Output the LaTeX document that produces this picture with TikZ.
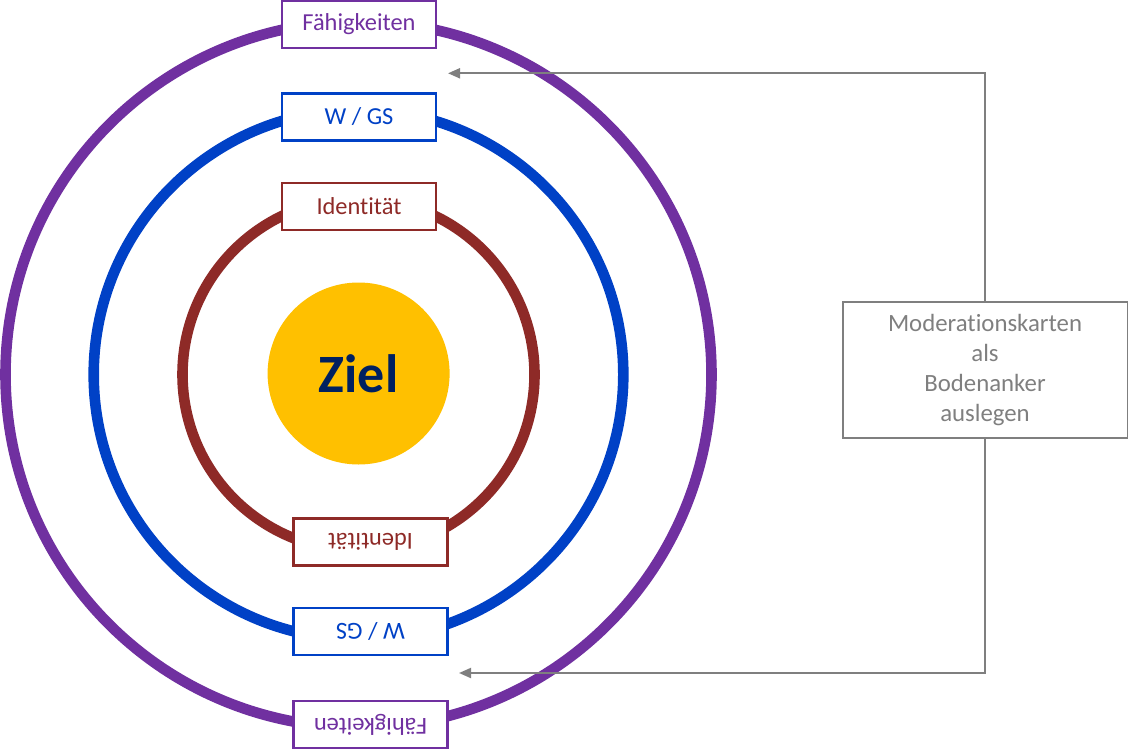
\documentclass[tikz,border=0pt]{standalone}
\usepackage{fontspec}
\setmainfont{Carlito}[Ligatures=NoCommon]
\usetikzlibrary{arrows.meta,positioning}
\definecolor{ringpurple}{HTML}{7030A0}
\definecolor{ringblue}{HTML}{0041C6}
\definecolor{ringred}{HTML}{8E2A27}
\definecolor{zielyellow}{HTML}{FFC000}
\definecolor{zielnavy}{HTML}{002060}
\definecolor{notegrey}{HTML}{7F7F7F}

\begin{document}
\begin{tikzpicture}[x=0.5pt, y=-0.5pt,
  ring/.style={line width=5.3pt},
  card/.style={draw, fill=white, line width=1.1pt, minimum width=77pt,
               minimum height=23.5pt, inner sep=0pt,
               font=\fontsize{12.2}{14}\selectfont},
  flip/.style={card, rotate=180},
  note/.style={draw=notegrey, text=notegrey, line width=1pt, align=center,
               minimum width=142.5pt, minimum height=68pt, inner sep=0pt,
               font=\fontsize{12.4}{15}\selectfont},
  ar/.style={-{Triangle[length=6pt, width=5pt]}, draw=notegrey, line width=1pt}]
\useasboundingbox (0,0) rectangle (1128,749);
\coordinate (c) at (358.5,374.5);
% rings
\draw[ring, draw=ringpurple] (c) circle[radius=176.5pt];
\draw[ring, draw=ringblue] (c) circle[radius=132.4pt];
\draw[ring, draw=ringred] (c) circle[radius=88pt];
\node[circle, fill=zielyellow, minimum size=91pt, inner sep=0pt, text=zielnavy,
      font=\bfseries\fontsize{27}{30}\selectfont] (ziel) at (358.6,373.5) {Ziel};
% cards on the rings
\node[card, draw=ringpurple, text=ringpurple] (faeh1) at (359,24.5) {Fähigkeiten};
\node[card, draw=ringblue, text=ringblue] (wgs1) at (359,117) {W / GS};
\node[card, draw=ringred, text=ringred] (ident1) at (359,206.5) {Identität};
\node[flip, draw=ringred, text=ringred] (ident2) at (370.5,542) {Identität};
\node[flip, draw=ringblue, text=ringblue] (wgs2) at (370.5,631.7) {W / GS};
\node[flip, draw=ringpurple, text=ringpurple] (faeh2) at (370.5,724.5) {Fähigkeiten};
% note with arrows
\node[note] (karten) at (985,370) {Moderationskarten\\als\\Bodenanker\\auslegen};
\coordinate (top) at (448,73.3);
\coordinate (bot) at (459,673);
\draw[ar] (karten.north) |- (top);
\draw[ar] (karten.south) |- (bot);
\end{tikzpicture}
\end{document}
